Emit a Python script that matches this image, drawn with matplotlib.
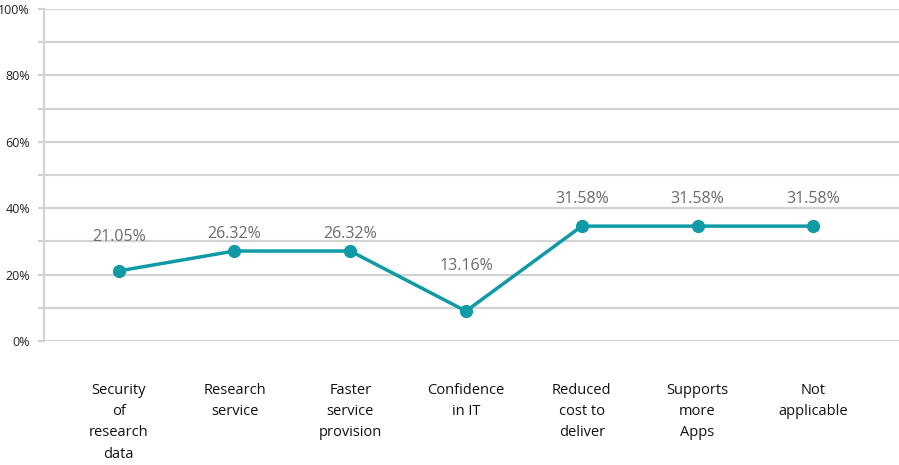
import matplotlib
matplotlib.use("Agg")
import matplotlib.pyplot as plt

# data
categories = [
    "Security\nof\nresearch\ndata",
    "Research\nservice",
    "Faster\nservice\nprovision",
    "Confidence\nin IT",
    "Reduced\ncost to\ndeliver",
    "Supports\nmore\nApps",
    "Not\napplicable",
]
# where the points sit on the axis (%)
plotted = [21.1, 27.1, 27.1, 9.0, 34.6, 34.6, 34.6]
# the printed data labels
value_labels = ["21.05%", "26.32%", "26.32%", "13.16%", "31.58%", "31.58%", "31.58%"]
# heights (%) at which those labels are printed
label_heights = [31.3, 32.2, 32.2, 22.6, 42.8, 42.8, 42.8]
y_ticks = [0, 20, 40, 60, 80, 100]

teal = "#0f9aa6"
grid_col = "#d3d3d3"

plt.rcParams["font.family"] = ["Open Sans", "DejaVu Sans"]

fig = plt.figure(figsize=(8.99, 4.65), dpi=100)
ax = fig.add_axes([44 / 899, 1 - 341 / 465, 1 - 44 / 899, (341 - 9) / 465])

x = list(range(len(categories)))
ax.plot(x, plotted, color=teal, lw=2.5, marker="o", ms=8.5, zorder=3,
        solid_capstyle="round")

for xi, txt, h in zip(x, value_labels, label_heights):
    ax.text(xi, h, txt, ha="center", va="center", fontsize=11.5,
            color="#6b6b6b")

ax.set_xlim(-0.645, 6.74)
ax.set_ylim(0, 100)

ax.set_yticks(range(0, 101, 10))
ax.set_yticklabels([f"{v}%" if v in y_ticks else "" for v in range(0, 101, 10)])
ax.grid(axis="y", color=grid_col, lw=1.6, zorder=0)
ax.tick_params(axis="y", length=4, width=1.6, color=grid_col, pad=6,
               labelsize=9, labelcolor="#222222")

ax.set_xticks(x)
ax.set_xticklabels(categories, fontsize=10.5, linespacing=1.58, color="#111111")
ax.tick_params(axis="x", length=0, pad=30)

for side in ["top", "right", "bottom"]:
    ax.spines[side].set_visible(False)
ax.spines["left"].set_color(grid_col)
ax.spines["left"].set_linewidth(1.6)

fig.savefig("out.png", dpi=100)
